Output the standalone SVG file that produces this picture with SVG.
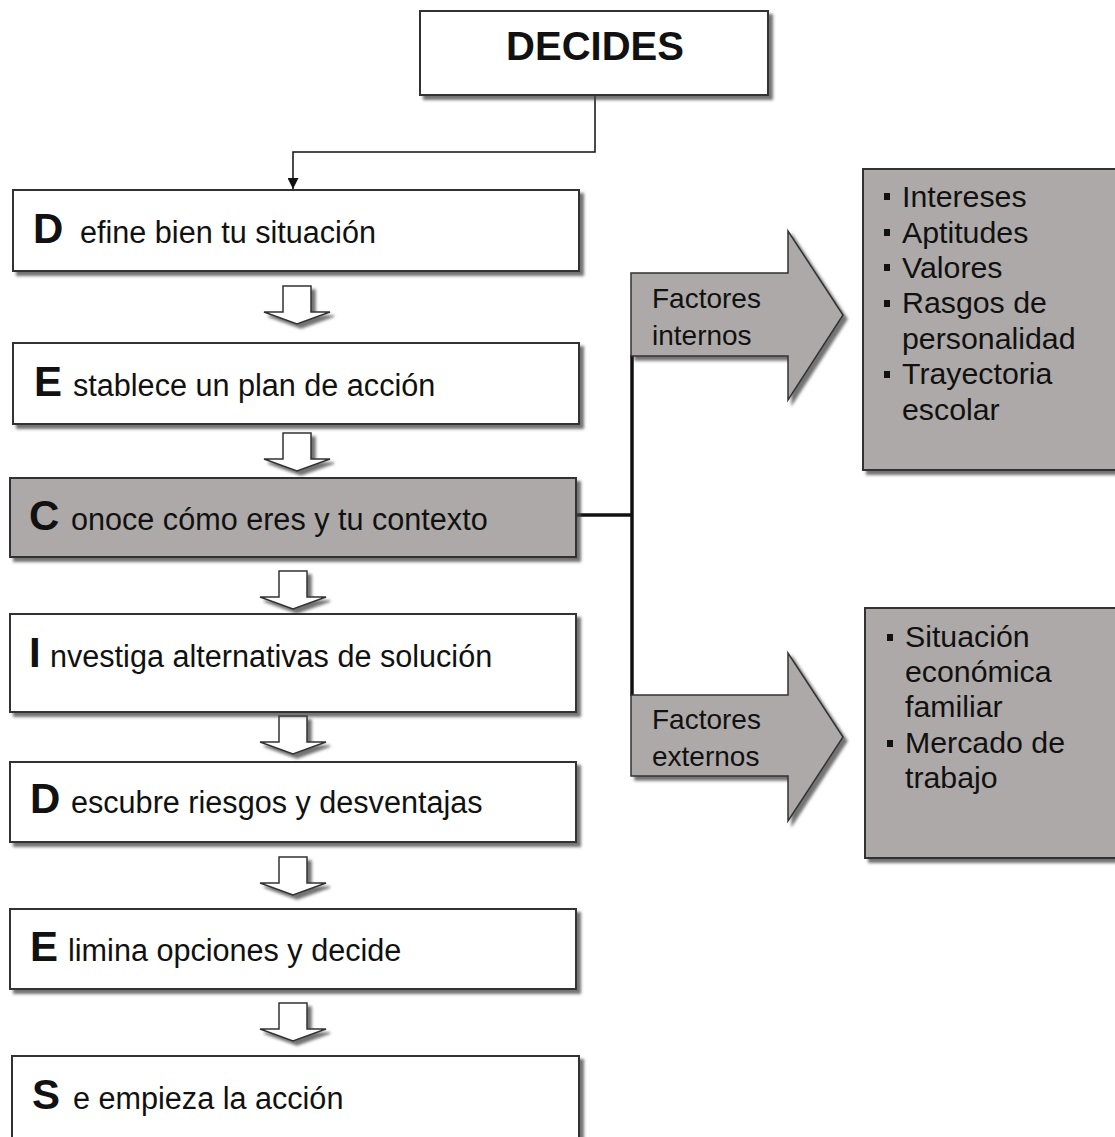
<svg xmlns="http://www.w3.org/2000/svg" width="1115" height="1137" viewBox="0 0 1115 1137">
<defs>
<filter id="sh" x="-10%" y="-10%" width="130%" height="140%">
<feDropShadow dx="4" dy="4" stdDeviation="1.5" flood-color="#444" flood-opacity="0.75"/>
</filter>
<marker id="ah" viewBox="0 0 10 10" refX="10" refY="5" markerWidth="13" markerHeight="11" markerUnits="userSpaceOnUse" orient="auto">
<path d="M0,0 L10,5 L0,10 z" fill="#111"/>
</marker>
<path id="down" d="M-14,0 h28 v26 h19 l-33,12 l-33,-12 h19 z"/>
</defs>
<style>
.box{fill:#fff;stroke:#333;stroke-width:2;filter:url(#sh)}
.gbox{fill:#ada9a8;stroke:#333;stroke-width:2;filter:url(#sh)}
.blk{fill:#fff;stroke:#333;stroke-width:1.5;filter:url(#sh)}
.big{font-family:"Liberation Sans",Arial,sans-serif;font-weight:bold;font-size:42px;fill:#111}
.t{font-family:"Liberation Sans",Arial,sans-serif;font-size:30.6px;fill:#111}
.lt{font-family:"Liberation Sans",Arial,sans-serif;font-size:30.3px;fill:#111}
.ft{font-family:"Liberation Sans",Arial,sans-serif;font-size:28px;fill:#111}
.bul{fill:#111}
</style>
<rect width="1115" height="1137" fill="#fff"/>

<g id="connectors">
<path d="M595,95 V152 H293 V189" fill="none" stroke="#111" stroke-width="1.5" marker-end="url(#ah)"/>
<path d="M576,515 H632" fill="none" stroke="#111" stroke-width="3.5"/>
<path d="M632,355 V696" fill="none" stroke="#111" stroke-width="3.5"/>
<use href="#down" class="blk" x="297" y="286"/>
<use href="#down" class="blk" x="297" y="433"/>
<use href="#down" class="blk" x="293" y="571"/>
<use href="#down" class="blk" x="293" y="716"/>
<use href="#down" class="blk" x="293" y="857"/>
<use href="#down" class="blk" x="293" y="1003"/>
</g>

<g id="decides">
<rect class="box" x="420" y="11" width="348" height="84"/>
<text x="595" y="60" text-anchor="middle" class="big" style="font-size:40px">DECIDES</text>
</g>

<g id="step-d1">
<rect class="box" x="13" y="190" width="566" height="81"/>
<text x="33" y="243" class="big">D</text>
<text x="80" y="243" class="t">efine bien tu situación</text>
</g>

<g id="step-e1">
<rect class="box" x="13" y="343" width="566" height="81"/>
<text x="34" y="396" class="big">E</text>
<text x="73" y="396" class="t">stablece un plan de acción</text>
</g>

<g id="step-c">
<rect class="gbox" x="10" y="478" width="566" height="79"/>
<text x="29" y="530" class="big">C</text>
<text x="71" y="530" class="t">onoce cómo eres y tu contexto</text>
</g>

<g id="step-i">
<rect class="box" x="10" y="614" width="566" height="98"/>
<text x="29" y="667" class="big">I</text>
<text x="50" y="667" class="t">nvestiga alternativas de solución</text>
</g>

<g id="step-d2">
<rect class="box" x="10" y="762" width="566" height="80"/>
<text x="30" y="813" class="big">D</text>
<text x="71" y="813" class="t">escubre riesgos y desventajas</text>
</g>

<g id="step-e2">
<rect class="box" x="10" y="909" width="566" height="80"/>
<text x="30" y="961" class="big">E</text>
<text x="68" y="961" class="t">limina opciones y decide</text>
</g>

<g id="step-s">
<rect class="box" x="12" y="1056" width="567" height="90"/>
<text x="32" y="1109" class="big">S</text>
<text x="73" y="1109" class="t">e empieza la acción</text>
</g>

<g id="factores-internos">
<path class="gbox" d="M631,273 H788 V231 L843,315 L788,400 V356 H631 Z" style="stroke-width:1.5"/>
<text x="652" y="308" class="ft">Factores</text>
<text x="652" y="345" class="ft">internos</text>
</g>

<g id="factores-externos">
<path class="gbox" d="M631,695 H788 V653 L843,737 L788,821 V776 H631 Z" style="stroke-width:1.5"/>
<text x="652" y="729" class="ft">Factores</text>
<text x="652" y="766" class="ft">externos</text>
</g>

<g id="lista-internos">
<rect class="gbox" x="863" y="169" width="262" height="301"/>
<rect class="bul" x="884" y="193" width="6" height="7"/>
<text x="902" y="207" class="lt">Intereses</text>
<rect class="bul" x="884" y="229" width="6" height="7"/>
<text x="902" y="243" class="lt">Aptitudes</text>
<rect class="bul" x="884" y="264" width="6" height="7"/>
<text x="902" y="278" class="lt">Valores</text>
<rect class="bul" x="884" y="300" width="6" height="7"/>
<text x="902" y="313" class="lt">Rasgos de</text>
<text x="902" y="349" class="lt">personalidad</text>
<rect class="bul" x="884" y="371" width="6" height="7"/>
<text x="902" y="384" class="lt">Trayectoria</text>
<text x="902" y="420" class="lt">escolar</text>
</g>

<g id="lista-externos">
<rect class="gbox" x="865" y="608" width="262" height="250"/>
<rect class="bul" x="887" y="634" width="6" height="7"/>
<text x="905" y="647" class="lt">Situación</text>
<text x="905" y="682" class="lt">económica</text>
<text x="905" y="717" class="lt">familiar</text>
<rect class="bul" x="887" y="740" width="6" height="7"/>
<text x="905" y="753" class="lt">Mercado de</text>
<text x="905" y="788" class="lt">trabajo</text>
</g>
</svg>
